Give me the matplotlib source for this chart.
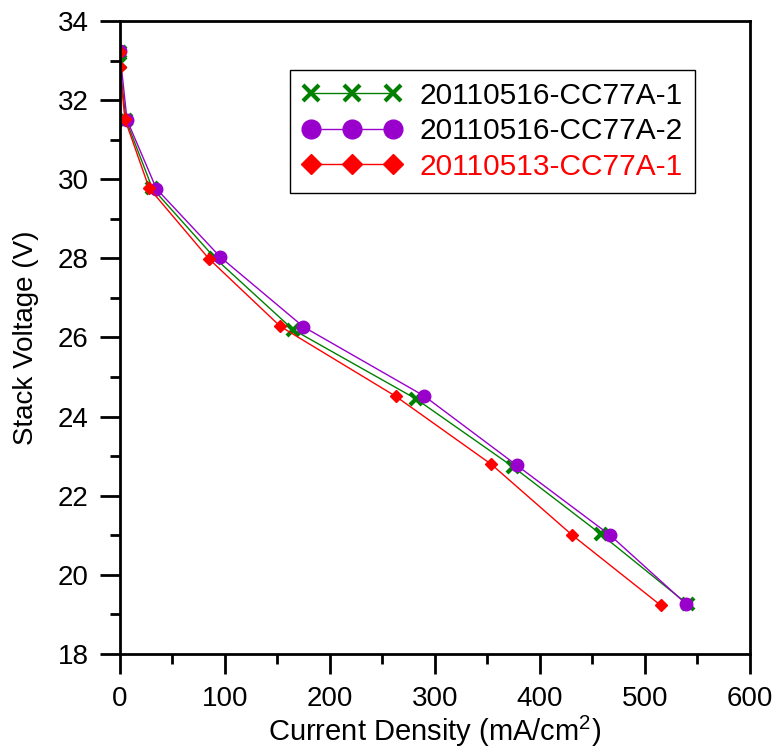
import matplotlib

matplotlib.use("Agg")
import matplotlib.pyplot as plt
from matplotlib.ticker import MultipleLocator

plt.rcParams["font.family"] = ["Liberation Sans", "DejaVu Sans"]
plt.rcParams["mathtext.fontset"] = "custom"
plt.rcParams["mathtext.rm"] = "Liberation Sans"

# Series values
labels = ["20110516-CC77A-1", "20110516-CC77A-2", "20110513-CC77A-1"]

x_a1 = [0, 0, 6, 31, 91, 165, 282, 375, 458, 541]
y_a1 = [33.22, 32.95, 31.5, 29.78, 28.0, 26.2, 24.45, 22.72, 21.03, 19.25]

x_a2 = [0, 7, 35, 96, 175, 290, 378, 467, 539]
y_a2 = [33.25, 31.5, 29.76, 28.03, 26.27, 24.52, 22.77, 21.0, 19.27]

x_b1 = [0, 0, 5, 28, 85, 153, 263, 354, 431, 515]
y_b1 = [33.22, 32.85, 31.52, 29.78, 27.99, 26.28, 24.51, 22.79, 21.0, 19.23]

colors = ["#008000", "#9900cc", "#ff0000"]
text_colors = ["black", "black", "#ff0000"]


def main() -> None:
    fig = plt.figure(figsize=(7.77, 7.55), dpi=100)
    ax = fig.add_axes([0.154, 0.134, 0.811, 0.838])

    ax.plot(x_a1, y_a1, color=colors[0], lw=1, marker="x", ms=8, mew=3,
            label=labels[0])
    ax.plot(x_a2, y_a2, color=colors[1], lw=1, marker="o", ms=9,
            label=labels[1])
    ax.plot(x_b1, y_b1, color=colors[2], lw=1, marker="D", ms=6.5,
            label=labels[2])

    ax.set_xlim(0, 600)
    ax.set_ylim(18, 34)
    ax.xaxis.set_major_locator(MultipleLocator(100))
    ax.xaxis.set_minor_locator(MultipleLocator(50))
    ax.yaxis.set_major_locator(MultipleLocator(2))
    ax.yaxis.set_minor_locator(MultipleLocator(1))
    ax.tick_params(which="major", direction="out", length=14.5, width=2,
                   labelsize=20, pad=8)
    ax.tick_params(axis="x", which="major", pad=9)
    ax.tick_params(which="minor", direction="out", length=7.2, width=2)
    for spine in ax.spines.values():
        spine.set_linewidth(2)

    ax.set_xlabel("Current Density (mA/cm$^{2}$)", fontsize=21, labelpad=1)
    ax.set_ylabel("Stack Voltage (V)", fontsize=20, labelpad=13)

    leg = ax.legend(loc="upper right", bbox_to_anchor=(0.913, 0.923),
                    fontsize=21.5, numpoints=3, handlelength=3.35,
                    markerscale=1.5, fancybox=False, framealpha=1,
                    borderaxespad=0, labelspacing=0.25, handletextpad=0.6,
                    borderpad=0.4)
    leg.get_frame().set_edgecolor("black")
    leg.get_frame().set_linewidth(1)
    for text, c in zip(leg.get_texts(), text_colors):
        text.set_color(c)

    fig.savefig("out.png", dpi=100)


if __name__ == "__main__":
    main()
